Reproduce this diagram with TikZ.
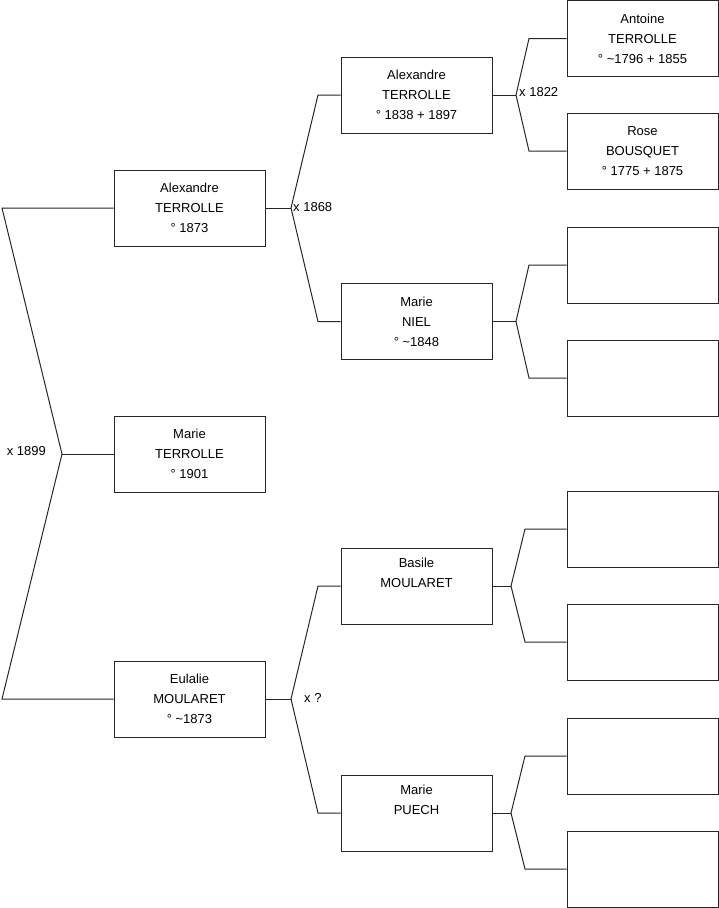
\documentclass[tikz,border=0pt]{standalone}
\usepackage{fontspec}
\setmainfont{Liberation Sans}
\begin{document}
\begin{tikzpicture}[x=1pt,y=-1pt,
  person/.style={draw=black!85, line width=1pt, minimum width=151pt, minimum height=76pt,
    inner sep=0pt, align=center, font=\fontsize{13}{20}\selectfont},
  link/.style={draw=black!85, line width=1pt},
  union/.style={inner sep=0pt, font=\fontsize{13}{15}\selectfont}]
\useasboundingbox (0,0) rectangle (719,908);
% level 1
\node[person] (p1) at (189.5,208) {Alexandre\\TERROLLE\\° 1873};
\node[person] (p0) at (189.5,454) {Marie\\TERROLLE\\° 1901};
\node[person] (p2) at (189.5,699) {Eulalie\\MOULARET\\° \string~1873};
% level 2
\node[person] (p3) at (416.5,95) {Alexandre\\TERROLLE\\° 1838 + 1897};
\node[person] (p4) at (416.5,321.5) {Marie\\NIEL\\° \string~1848};
\node[person] (p5) at (416.5,586) {Basile\\MOULARET\\\strut};
\node[person] (p6) at (416.5,813) {Marie\\PUECH\\\strut};
% level 3
\node[person] (p7) at (642.5,38.5) {Antoine\\TERROLLE\\° \string~1796 + 1855};
\node[person] (p8) at (642.5,151) {Rose\\BOUSQUET\\° 1775 + 1875};
\node[person] (p9) at (642.5,265) {};
\node[person] (p10) at (642.5,378) {};
\node[person] (p11) at (642.5,529) {};
\node[person] (p12) at (642.5,642) {};
\node[person] (p13) at (642.5,756) {};
\node[person] (p14) at (642.5,869) {};
% joints
\coordinate (j0) at (62,454);
\coordinate (j0a) at (2,208);
\coordinate (j0b) at (2,699);
\coordinate (j1) at (291,208);
\coordinate (j1a) at (318,95);
\coordinate (j1b) at (318,321.5);
\coordinate (j2) at (291,699);
\coordinate (j2a) at (318,586);
\coordinate (j2b) at (318,813);
\coordinate (j3) at (516,95);
\coordinate (j3a) at (529,38.5);
\coordinate (j3b) at (529,151);
\coordinate (j4) at (516,321.5);
\coordinate (j4a) at (529,265);
\coordinate (j4b) at (529,378);
\coordinate (j5) at (511,586);
\coordinate (j5a) at (525,529);
\coordinate (j5b) at (525,642);
\coordinate (j6) at (511,813);
\coordinate (j6a) at (525,756);
\coordinate (j6b) at (525,869);
% connectors
\draw[link] (p1.west) -- (j0a) -- (j0) -- (j0b) -- (p2.west);
\draw[link] (j0) -- (p0.west);
\draw[link] (p3.west) -- (j1a) -- (j1) -- (j1b) -- (p4.west);
\draw[link] (j1) -- (p1.east);
\draw[link] (p5.west) -- (j2a) -- (j2) -- (j2b) -- (p6.west);
\draw[link] (j2) -- (p2.east);
\draw[link] (p7.west) -- (j3a) -- (j3) -- (j3b) -- (p8.west);
\draw[link] (j3) -- (p3.east);
\draw[link] (p9.west) -- (j4a) -- (j4) -- (j4b) -- (p10.west);
\draw[link] (j4) -- (p4.east);
\draw[link] (p11.west) -- (j5a) -- (j5) -- (j5b) -- (p12.west);
\draw[link] (j5) -- (p5.east);
\draw[link] (p13.west) -- (j6a) -- (j6) -- (j6b) -- (p14.west);
\draw[link] (j6) -- (p6.east);
% union labels
\node[union, anchor=east] (u0) at (46,451) {x 1899};
\node[union, anchor=west] (u1) at (293,207) {x 1868};
\node[union, anchor=west] (u2) at (304,698) {x ?};
\node[union, anchor=west] (u3) at (519,92) {x 1822};
\end{tikzpicture}
\end{document}
